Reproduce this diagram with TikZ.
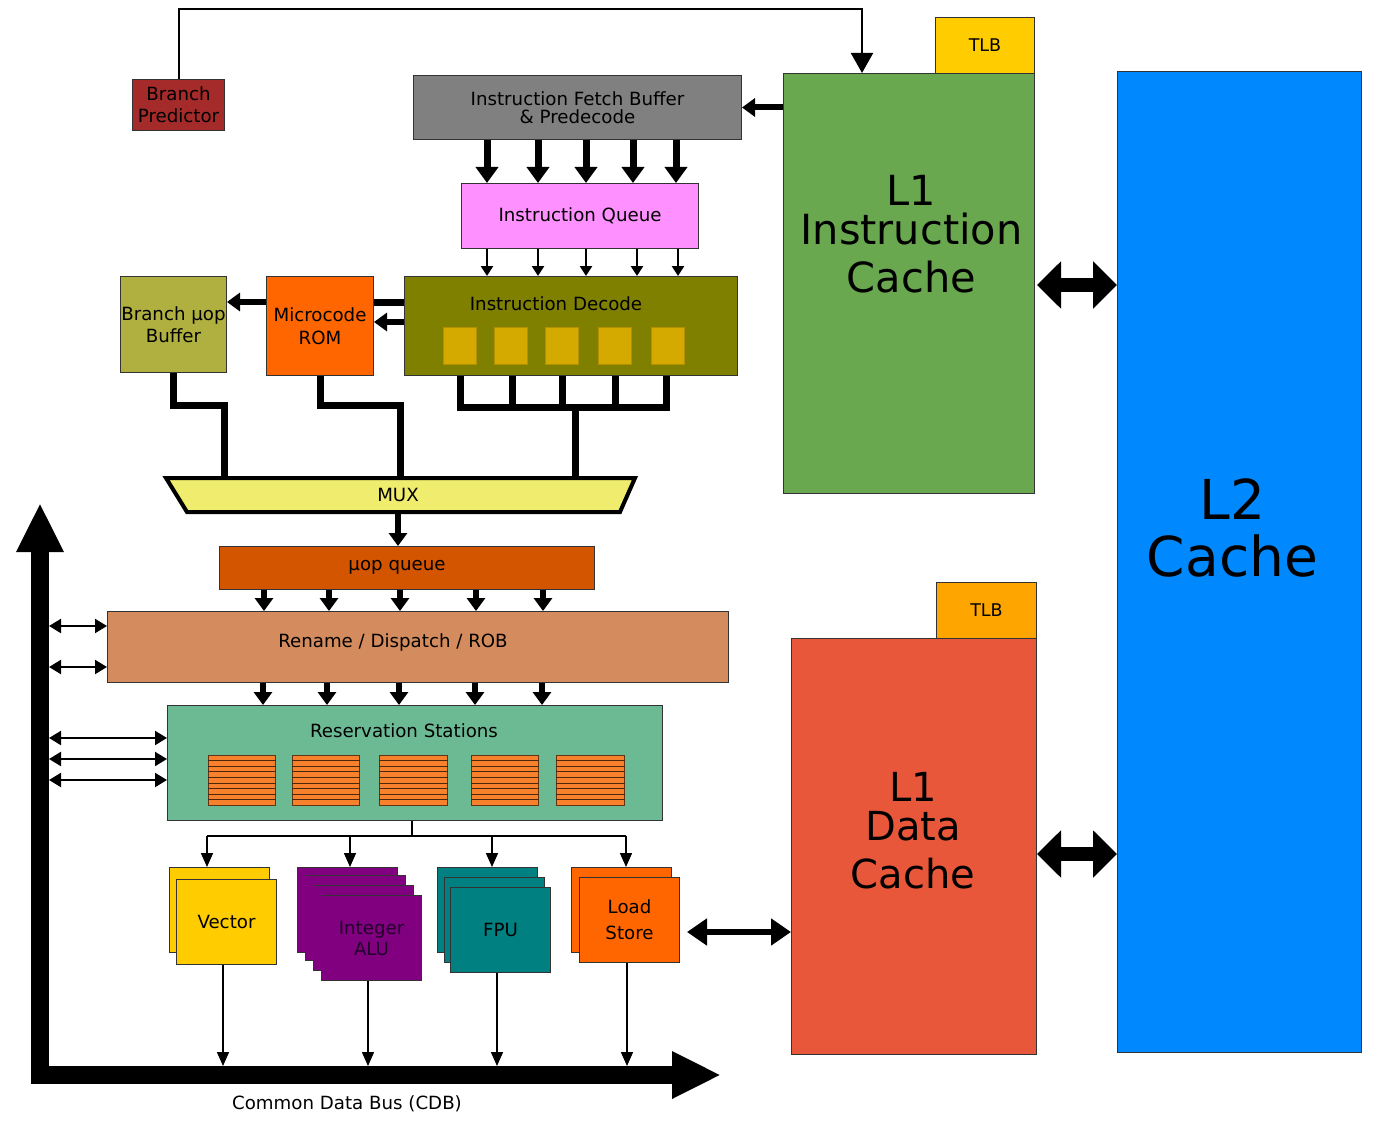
\documentclass[tikz,border=0pt]{standalone}
\usepackage{fontspec}
\setmainfont{DejaVu Sans}
\usetikzlibrary{arrows.meta,calc}
\definecolor{cBP}{HTML}{A52A2A}
\definecolor{cIFB}{HTML}{808080}
\definecolor{cIQ}{HTML}{FF90FF}
\definecolor{cID}{HTML}{808000}
\definecolor{cIDs}{HTML}{D4AA00}
\definecolor{cMR}{HTML}{FF6600}
\definecolor{cBUB}{HTML}{B0B040}
\definecolor{cMUX}{HTML}{F0EC6E}
\definecolor{cUQ}{HTML}{D45500}
\definecolor{cRD}{HTML}{D48C5E}
\definecolor{cRS}{HTML}{6CBA94}
\definecolor{cRSb}{HTML}{F7812D}
\definecolor{cVec}{HTML}{FFCC00}
\definecolor{cInt}{HTML}{800080}
\definecolor{cIntT}{HTML}{22002A}
\definecolor{cFPU}{HTML}{008080}
\definecolor{cLS}{HTML}{FF6600}
\definecolor{cTLBi}{HTML}{FFCC00}
\definecolor{cTLBd}{HTML}{FFA500}
\definecolor{cLI}{HTML}{6AA84F}
\definecolor{cLD}{HTML}{E8573A}
\definecolor{cLII}{HTML}{0088FF}
\tikzset{
  bx/.style={draw=black!80, line width=1pt, inner sep=0pt, anchor=north west, align=center, font=\fontsize{18.2}{21}\selectfont},
  lbl/.style={inner sep=0pt, align=center, font=\fontsize{18.2}{21}\selectfont},
  unitbox/.style={bx, minimum width=100pt, minimum height=85pt},
  rsblk/.style={draw=black!60!cRSb, line width=0.8pt, fill=cRSb, inner sep=0pt, anchor=north west, minimum height=49.5pt},
  rsline/.style={draw=black!70!cRSb, line width=0.8pt},
  idsq/.style={draw=cIDs!85!black, line width=0.5pt, fill=cIDs, inner sep=0pt, anchor=north west, minimum width=33pt, minimum height=37pt},
  bigarr/.style={line width=7pt, -{Triangle[width=22pt,length=16pt]}},
  midarr/.style={line width=6pt, -{Triangle[width=18pt,length=13pt]}},
  smallarr/.style={line width=2.5pt, -{Triangle[width=12pt,length=10pt]}},
  thinarr/.style={line width=1.5pt, -{Triangle[width=12pt,length=14pt]}},
  dblthin/.style={line width=2pt, {Triangle[width=14pt,length=12pt]}-{Triangle[width=14pt,length=12pt]}},
  busline/.style={line width=7pt},
  lsarr/.style={line width=6pt, {Triangle[width=26pt,length=20pt]}-{Triangle[width=26pt,length=20pt]}},
  fatarr/.style={line width=14pt, {Triangle[width=46pt,length=24pt]}-{Triangle[width=46pt,length=24pt]}},
  brarr/.style={line width=2pt, -{Triangle[width=22pt,length=20pt]}},
}
\begin{document}
\begin{tikzpicture}[x=1pt,y=-1pt]
\useasboundingbox (0,0) rectangle (1379,1126);
\fill[white] (0,0) rectangle (1379,1126);

% ---------- front end ----------
\node[bx, fill=cBP, minimum width=92pt, minimum height=51pt, font=\fontsize{18.2}{22}\selectfont] (bp) at (132,79) {Branch\\Predictor};
\node[bx, fill=cIFB, minimum width=328pt, minimum height=64pt, font=\fontsize{18.2}{18}\selectfont] (ifb) at (413,75) {Instruction Fetch Buffer\\\& Predecode};
\node[bx, fill=cIQ, minimum width=237pt, minimum height=65pt] (iq) at (461,183) {Instruction Queue};
\node[bx, fill=cID, minimum width=333pt, minimum height=99pt] (id) at (404,276) {};
\node[lbl] (idl) at (556,304) {Instruction Decode};
\foreach \x [count=\i] in {443,494,545,598,651}
  \node[idsq] (ids\i) at (\x,327) {};
\node[bx, fill=cMR, minimum width=107pt, minimum height=99pt, font=\fontsize{18.2}{23}\selectfont] (mr) at (266,276) {Microcode\\ROM};
\node[bx, fill=cBUB, minimum width=106pt, minimum height=96pt, font=\fontsize{18.2}{22}\selectfont] (bub) at (120,276) {Branch μop\\Buffer};

% MUX
\coordinate (mx1) at (166,478);
\coordinate (mx2) at (635,478);
\coordinate (mx3) at (620,512);
\coordinate (mx4) at (187,512);
\draw[fill=cMUX, line width=4pt, line join=miter] (mx1) -- (mx2) -- (mx3) -- (mx4) -- cycle;
\node[lbl, minimum width=440pt, minimum height=34pt] (mux) at (398,495) {MUX};

% ---------- back end ----------
\node[bx, fill=cUQ, minimum width=375pt, minimum height=43pt] (uq) at (219,546) {};
\node[lbl] (uql) at (397,567) {μop queue};
\node[bx, fill=cRD, minimum width=621pt, minimum height=71pt] (rd) at (107,611) {};
\node[lbl] (rdl) at (393,642) {Rename / Dispatch / ROB};
\node[bx, fill=cRS, minimum width=495pt, minimum height=115pt] (rs) at (167,705) {};
\node[lbl] (rsl) at (404,731) {Reservation Stations};
\foreach \x/\w [count=\i] in {208/67,292/67,379/68,471/67,556/68} {
  \node[rsblk, minimum width=\w pt] (rsb\i) at (\x,755) {};
  \foreach \k in {1,...,8}
    \draw[rsline] ($(rsb\i.north west)!\k/9!(rsb\i.south west)$) -- ($(rsb\i.north east)!\k/9!(rsb\i.south east)$);
}

% execution units
\node[unitbox, fill=cVec] (vecb) at (169,867) {};
\node[unitbox, fill=cVec] (vecf) at (176,879) {Vector};
\node[unitbox, fill=cInt] (int1) at (297,867) {};
\node[unitbox, fill=cInt] (int2) at (305,875) {};
\node[unitbox, fill=cInt] (int3) at (313,885) {};
\node[unitbox, fill=cInt, text=cIntT, font=\fontsize{18.2}{21}\selectfont] (int4) at (321,895) {Integer\\ALU};
\node[unitbox, fill=cFPU] (fpu1) at (437,867) {};
\node[unitbox, fill=cFPU] (fpu2) at (444,877) {};
\node[unitbox, fill=cFPU] (fpu3) at (450,887) {FPU};
\node[unitbox, fill=cLS] (lsb) at (571,867) {};
\node[unitbox, fill=cLS, font=\fontsize{18.2}{26}\selectfont] (lsf) at (579,877) {Load\\Store};

% ---------- caches ----------
\node[bx, fill=cTLBi, minimum width=99pt, minimum height=56pt, font=\fontsize{17.5}{18}\selectfont] (tlbi) at (935,17) {TLB};
\node[bx, fill=cLI, minimum width=251pt, minimum height=420pt] (l1i) at (783,73) {};
\node[lbl, font=\fontsize{41.5}{44}\selectfont] (l1il) at (911.5,234) {L1\\[-5pt]Instruction\\[4pt]Cache};
\node[bx, fill=cLII, minimum width=244pt, minimum height=981pt] (l2) at (1117,71) {};
\node[lbl, font=\fontsize{55}{57}\selectfont] (l2l) at (1232.5,528) {L2\\Cache};
\node[bx, fill=cTLBd, minimum width=100pt, minimum height=56pt, font=\fontsize{17.5}{18}\selectfont] (tlbd) at (936,582) {TLB};
\node[bx, fill=cLD, minimum width=245pt, minimum height=416pt] (l1d) at (791,638) {};
\node[lbl, font=\fontsize{40}{44}\selectfont] (l1dl) at (913,830.5) {L1\\[-5pt]Data\\[4pt]Cache};

% ---------- connectors ----------
% branch predictor to L1 I-cache
\coordinate (bpt) at (862,9);
\draw[brarr] (bp.north) |- (bpt) -- (l1i.north -| bpt);
% L1 I-cache to fetch buffer
\draw[midarr] (l1i.west |- ifb.east) -- (ifb.east);
% fetch buffer to instruction queue
\foreach \x [count=\i] in {487,538,586,633,676} {
  \coordinate (fq\i) at (\x,0);
  \draw[bigarr] (ifb.south -| fq\i) -- (iq.north -| fq\i);
}
% instruction queue to decode
\foreach \x [count=\i] in {487,538,586,637,678} {
  \coordinate (qd\i) at (\x,0);
  \draw[smallarr] (iq.south -| qd\i) -- (id.north -| qd\i);
}
% decode / microcode / branch uop buffer
\coordinate (ya) at (0,302);
\coordinate (yb) at (0,322);
\draw[busline] (id.west |- ya) -- (mr.east |- ya);
\draw[midarr] (mr.west |- ya) -- (bub.east |- ya);
\draw[midarr] (id.west |- yb) -- (mr.east |- yb);
% to MUX
\coordinate (m1) at (224,0);
\coordinate (m2) at (400,0);
\coordinate (m3) at (575,0);
\coordinate (bar) at (0,407);
\draw[busline] (bub.south) -- ++(0,32) -| (mux.north -| m1);
\draw[busline] (mr.south) -- ++(0,29) -| (mux.north -| m2);
\foreach \x [count=\i] in {460,512,562,615,666}
  \coordinate (dm\i) at (\x,0);
\draw[busline] (id.south -| dm1) -- (bar -| dm1) -- (bar -| dm5) -- (id.south -| dm5);
\foreach \i in {2,3,4}
  \draw[busline] (id.south -| dm\i) -- (bar -| dm\i);
\draw[busline] (bar -| m3) -- (mux.north -| m3);
% MUX to uop queue
\draw[midarr] (mux.south) -- (uq.north -| mux.south);
% uop queue to rename
\foreach \x [count=\i] in {264,329,400,476,543} {
  \coordinate (ur\i) at (\x,0);
  \draw[midarr] (uq.south -| ur\i) -- (rd.north -| ur\i);
}
% rename to reservation stations
\foreach \x [count=\i] in {263,327,399,475,542} {
  \coordinate (rr\i) at (\x,0);
  \draw[midarr] (rd.south -| rr\i) -- (rs.north -| rr\i);
}
% reservation stations to units
\coordinate (yu) at (0,836);
\coordinate (e1) at (207,0);
\coordinate (e2) at (350,0);
\coordinate (e3) at (492,0);
\coordinate (e4) at (626,0);
\coordinate (rsx) at (412,0);
\draw[line width=1.5pt] (rs.south -| rsx) -- (yu -| rsx);
\draw[line width=1.5pt] (yu -| e1) -- (yu -| e4);
\draw[thinarr] (yu -| e1) -- (vecb.north -| e1);
\draw[thinarr] (yu -| e2) -- (int1.north -| e2);
\draw[thinarr] (yu -| e3) -- (fpu1.north -| e3);
\draw[thinarr] (yu -| e4) -- (lsb.north -| e4);

% common data bus
\coordinate (cdbT) at (40,503);
\coordinate (cdbC) at (40,1075);
\coordinate (cdbR) at (721,1075);
\draw[line width=18pt, line join=miter, {Triangle[width=44pt,length=49pt]}-{Triangle[width=44pt,length=49pt]}] (cdbT) -- (cdbC) -- (cdbR);
\node[lbl] (cdbl) at (347,1104) {Common Data Bus (CDB)};
% units to bus
\coordinate (bust) at (0,1066);
\coordinate (o1) at (223,0);
\coordinate (o2) at (368,0);
\coordinate (o3) at (497,0);
\coordinate (o4) at (627,0);
\draw[thinarr] (vecf.south -| o1) -- (bust -| o1);
\draw[thinarr] (int4.south -| o2) -- (bust -| o2);
\draw[thinarr] (fpu3.south -| o3) -- (bust -| o3);
\draw[thinarr] (lsf.south -| o4) -- (bust -| o4);
% bus to rename / reservation stations
\coordinate (cdbE) at (49,0);
\foreach \y in {626,667} {
  \coordinate (ty) at (0,\y);
  \draw[dblthin] (cdbE |- ty) -- (rd.west |- ty);
}
\foreach \y in {738,759,780} {
  \coordinate (ty) at (0,\y);
  \draw[dblthin] (cdbE |- ty) -- (rs.west |- ty);
}
% load/store to L1 D-cache
\coordinate (lsy) at (0,932);
\draw[lsarr] ($(lsf.east |- lsy)+(7,0)$) -- (l1d.west |- lsy);
% L1 caches to L2
\coordinate (y285) at (0,285);
\coordinate (y854) at (0,854);
\draw[fatarr] ($(l1i.east |- y285)+(2,0)$) -- (l2.west |- y285);
\draw[fatarr] (l1d.east |- y854) -- (l2.west |- y854);
\end{tikzpicture}
\end{document}
